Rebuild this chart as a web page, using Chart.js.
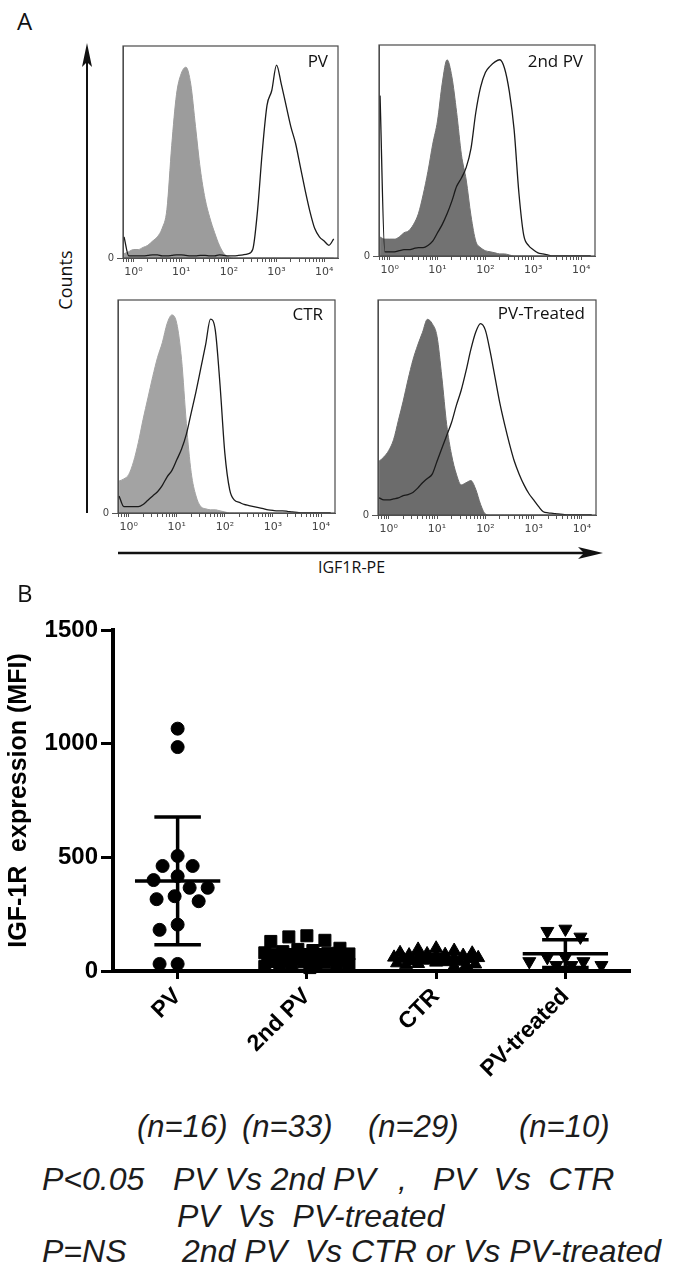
<!DOCTYPE html>
<html>
<head>
<meta charset="utf-8">
<script src="https://cdn.jsdelivr.net/npm/chart.js@4.4.1/dist/chart.umd.min.js"></script>
<style>
  html, body { margin: 0; padding: 0; background: #fff; }
  #page { position: relative; width: 675px; height: 1272px; overflow: hidden; font-family: "Open Sans", sans-serif; color: #111; }
  canvas { position: absolute; }
  .txt { position: absolute; white-space: pre; line-height: 1; }
  .pl { font-size: 17px; }
  .it { font-family: "Liberation Sans", Arial, sans-serif; font-style: italic; font-size: 31px; color: #1c1c1c; }
  .pt { font-size: 32px; }
</style>
</head>
<body>
<div id="page">
  <svg width="675" height="600" style="position:absolute;left:0;top:0">
    <line x1="87" y1="62" x2="87" y2="513" stroke="#111" stroke-width="2"/>
    <polygon points="87,43 82,67 87,62 92,67" fill="#111"/>
    <line x1="118" y1="553" x2="585" y2="553" stroke="#111" stroke-width="2.5"/>
    <polygon points="603,553 578,547 584,553 578,559" fill="#111"/>
  </svg>

  <canvas id="histPV"></canvas>
  <canvas id="hist2PV"></canvas>
  <canvas id="histCTR"></canvas>
  <canvas id="histPVT"></canvas>
  <canvas id="scatterB"></canvas>

  <div class="txt" style="left:17px;top:9px;font-size:24px;">A</div>
  <div class="txt" style="left:17px;top:581px;font-size:24px;">B</div>
  <div class="txt" style="left:65px;top:280px;font-size:18px;transform:translate(-50%,-50%) rotate(-90deg);">Counts</div>
  <div class="txt" style="left:318px;top:559px;font-size:16px;">IGF1R-PE</div>

  <div class="txt pl" style="right:347px;top:52px;">PV</div>
  <div class="txt pl" style="right:92px;top:52px;">2nd PV</div>
  <div class="txt pl" style="right:352px;top:305px;">CTR</div>
  <div class="txt pl" style="right:90px;top:304px;">PV-Treated</div>

  <div class="txt it" style="left:137px;top:1111px;">(n=16)</div>
  <div class="txt it" style="left:242px;top:1111px;">(n=33)</div>
  <div class="txt it" style="left:368px;top:1111px;">(n=29)</div>
  <div class="txt it" style="left:519px;top:1111px;">(n=10)</div>

  <div class="txt it pt" style="left:42px;top:1163px;">P&lt;0.05</div>
  <div class="txt it pt" style="left:173px;top:1163px;">PV Vs 2nd PV</div>
  <div class="txt it pt" style="left:398px;top:1163px;">,</div>
  <div class="txt it pt" style="left:433px;top:1163px;">PV  Vs  CTR</div>
  <div class="txt it pt" style="left:177px;top:1200px;">PV  Vs  PV-treated</div>
  <div class="txt it pt" style="left:42px;top:1235px;">P=NS</div>
  <div class="txt it pt" style="left:182px;top:1235px;">2nd PV  Vs CTR or Vs PV-treated</div>
</div>

<script>
// ---- Panel A: histogram channels (log10 of IGF1R-PE) ----
const binLog = [-0.2, -0.1, 0, 0.1, 0.2, 0.3, 0.4, 0.5, 0.6, 0.7, 0.8, 0.9,
  1.0, 1.1, 1.2, 1.3, 1.4, 1.5, 1.6, 1.7, 1.8, 1.9, 2.0, 2.1, 2.2, 2.3, 2.4,
  2.5, 2.6, 2.7, 2.8, 2.9, 3.0, 3.1, 3.2, 3.3, 3.4, 3.5, 3.6, 3.7, 3.8, 3.9,
  4.0, 4.1, 4.2];
const decadeLabels = ['10\u2070', '10\u00b9', '10\u00b2', '10\u00b3', '10\u2074'];

// counts, % of panel height
const pvFill = [2, 3, 4, 4, 5, 6, 8, 10, 14, 23, 53, 77, 87, 90, 82, 62, 42, 28, 19, 12, 6, 2, 0.5,
  0, 0, 0, 0, 0, 0, 0, 0, 0, 0, 0, 0, 0, 0, 0, 0, 0, 0, 0, 0, 0, 0];
const pvOpen = [10, 1, 1, 1, 1, 1.2, 1.5, 1.5, 1, 1, 1.2, 1.5, 1.5, 1.2, 1, 1, 1.2, 1.2, 1, 1, 1.5, 1.2,
  1, 1, 1.2, 1.5, 2, 4, 22, 50, 72, 79, 91, 82, 72, 62, 54, 43, 32, 22, 14, 10, 8, 6, 9];

const pv2Fill = [9, 8, 8, 8, 9, 11, 12, 15, 20, 29, 40, 53, 64, 82, 93, 85, 68, 48, 36, 19, 7, 4, 2.5,
  2, 1.5, 1, 1, 0.5, 0, 0, 0, 0, 0, 0, 0, 0, 0, 0, 0, 0, 0, 0, 0, 0, 0];
const pv2Open = [76, 2, 2, 2, 2.5, 3, 3, 3.5, 4, 4, 5, 7, 11, 15, 20, 26, 33, 37, 42, 51, 68, 80, 87,
  90, 92, 93, 89, 78, 60, 30, 10, 5, 3, 1.5, 1, 0.5, 0, 0, 0, 0, 0, 0, 0, 0, 0];

const ctrFill = [15, 16, 18, 24, 33, 44, 54, 64, 73, 80, 89, 93, 89, 72, 42, 19, 8, 3, 2, 1.5, 1.5, 1, 0.5,
  0, 0, 0, 0, 0, 0, 0, 0, 0, 0, 0, 0, 0, 0, 0, 0, 0, 0, 0, 0, 0, 0];
const ctrOpen = [8, 3, 3, 3, 3, 4, 6, 8, 10, 13, 17, 20, 25, 30, 37, 47, 57, 68, 79, 91, 86, 60, 28, 11,
  6, 5, 4, 3.5, 3, 2.5, 2, 1.5, 1.2, 1, 1, 0.8, 0.5, 0.3, 0, 0, 0, 0, 0, 0, 0];

const pvtFill = [25, 27, 30, 35, 44, 53, 63, 72, 79, 85, 91, 89, 83, 64, 42, 28, 19, 14, 15, 16, 12, 5, 0.5,
  0, 0, 0, 0, 0, 0, 0, 0, 0, 0, 0, 0, 0, 0, 0, 0, 0, 0, 0, 0, 0, 0];
const pvtOpen = [8, 7, 7, 7.5, 8, 9, 9.5, 10.5, 12.5, 15, 17, 19, 25, 31, 37, 43, 51, 58, 67, 77, 85, 89,
  86, 76, 64, 52, 42, 33, 25, 19, 14, 10, 7, 4, 1.5, 1, 0.8, 0.5, 0.3, 0, 0, 0, 0, 0, 0];

// ---- Panel B: MFI per patient ----
const groups = ['PV', '2nd PV', 'CTR', 'PV-treated'];
const pvVals = [1066, 985, 506, 462, 462, 417, 400, 366, 366, 329, 316, 307, 204, 181, 31, 31];
const pv2Vals = [155, 150, 135, 130, 100, 95, 90, 85, 80, 78, 75, 72, 70, 68, 65, 62, 60, 58, 55, 52,
  50, 48, 45, 42, 40, 38, 35, 32, 30, 28, 25, 20, 15];
const ctrVals = [100, 95, 90, 80, 78, 75, 72, 70, 68, 65, 62, 60, 58, 56, 55, 54, 52, 50, 48, 45, 42,
  40, 38, 35, 32, 30, 28, 25, 20];
const pvtVals = [185, 175, 150, 60, 60, 42, 42, 25, 25, 25];
const meanVals = [396, 64, 55, 76];
const sdVals = [281, 29, 20, 61];
const yTicks = [0, 500, 1000, 1500];

// frame round each histogram
const boxFrame = {
  id: 'boxFrame',
  afterDraw(chart) {
    const { ctx, chartArea: a } = chart;
    ctx.save();
    ctx.strokeStyle = '#4a4a4a';
    ctx.lineWidth = 1.2;
    ctx.strokeRect(a.left, a.top, a.right - a.left, a.bottom - a.top);
    ctx.restore();
  }
};

function makeHist(id, box, openVals, fillVals, fillColor) {
  const cv = document.getElementById(id);
  cv.width = box.r - box.l + 33;
  cv.height = box.b - box.t + 36;
  cv.style.left = (box.l - 25) + 'px';
  cv.style.top = (box.t - 6) + 'px';
  const xs = binLog.map(v => Math.pow(10, v));
  new Chart(cv, {
    type: 'line',
    data: {
      datasets: [
        { data: xs.map((x, i) => ({ x, y: openVals[i] })), borderColor: '#1a1a1a', borderWidth: 1.3,
          fill: false, pointRadius: 0, cubicInterpolationMode: 'monotone' },
        { data: xs.map((x, i) => ({ x, y: fillVals[i] })), borderColor: fillColor, backgroundColor: fillColor,
          borderWidth: 1, fill: 'origin', pointRadius: 0, cubicInterpolationMode: 'monotone' }
      ]
    },
    options: {
      responsive: false,
      animation: false,
      devicePixelRatio: 1,
      layout: { autoPadding: false, padding: { top: 6, right: 8, left: 0, bottom: 0 } },
      plugins: { legend: { display: false }, tooltip: { enabled: false } },
      scales: {
        x: {
          type: 'logarithmic',
          min: Math.pow(10, -0.2),
          max: Math.pow(10, 4.29),
          afterFit: s => { s.height = 30; },
          afterBuildTicks: s => {
            const t = [];
            for (let e = -1; e <= 4; e++) {
              for (let m = 1; m < 10; m++) {
                const v = m * Math.pow(10, e);
                if (v >= s.min && v <= s.max) t.push({ value: v });
              }
            }
            s.ticks = t;
          },
          ticks: {
            autoSkip: false, maxRotation: 0, padding: 4, color: '#444',
            font: { family: 'DejaVu Sans', size: 11 },
            callback: v => {
              const e = Math.log10(v);
              const r = Math.round(e);
              return Math.abs(e - r) < 1e-6 && r >= 0 ? decadeLabels[r] : '';
            }
          },
          grid: { drawOnChartArea: false, tickLength: 4, color: '#555' },
          border: { color: '#555', width: 1 }
        },
        y: {
          min: 0,
          max: 100,
          afterFit: s => { s.width = 25; },
          afterBuildTicks: s => { s.ticks = [{ value: 0 }]; },
          ticks: { padding: 3, color: '#444', font: { family: 'DejaVu Sans', size: 10 } },
          grid: { drawOnChartArea: false, tickLength: 6, color: '#555' },
          border: { color: '#555', width: 1 }
        }
      }
    },
    plugins: [boxFrame]
  });
}

makeHist('histPV', { l: 123, r: 338, t: 43, b: 258 }, pvOpen, pvFill, '#9c9c9c');
makeHist('hist2PV', { l: 379, r: 595, t: 42, b: 256 }, pv2Open, pv2Fill, '#727272');
makeHist('histCTR', { l: 118, r: 335, t: 297, b: 513 }, ctrOpen, ctrFill, '#a3a3a3');
makeHist('histPVT', { l: 378, r: 596, t: 297, b: 515 }, pvtOpen, pvtFill, '#6c6c6c');

// spread points of a group sideways (kept inside the group slot)
const Y_PX = 341 / 1500;  // px per MFI unit
const X_PX = 129;         // px per group slot
function swarm(values, center) {
  const placed = [];
  const minDist = 16, step = 3, maxOff = 42;
  values.slice().sort((a, b) => b - a).forEach(v => {
    const py = v * Y_PX;
    let best = 0, bestD = -1;
    for (let k = 0; ; k++) {
      const cand = (k % 2 ? -1 : 1) * Math.ceil(k / 2) * step;
      if (Math.abs(cand) > maxOff) break;
      const d = placed.reduce((m, p) => Math.min(m, Math.hypot(p.px - cand, p.py - py)), Infinity);
      if (d >= minDist) { best = cand; break; }
      if (d > bestD) { bestD = d; best = cand; }
    }
    placed.push({ px: best, py, v });
  });
  return placed.map(p => ({ x: center + p.px / X_PX, y: p.v }));
}

const errorBars = {
  id: 'errorBars',
  afterDatasetsDraw(chart) {
    const { ctx, scales: { x, y } } = chart;
    ctx.save();
    ctx.strokeStyle = '#000';
    ctx.lineWidth = 3.5;
    meanVals.forEach((m, i) => {
      const c = i + 1;
      const ym = y.getPixelForValue(m);
      const yt = y.getPixelForValue(m + sdVals[i]);
      const yb = y.getPixelForValue(Math.max(0, m - sdVals[i]));
      ctx.beginPath();
      ctx.moveTo(x.getPixelForValue(c - 0.33), ym);
      ctx.lineTo(x.getPixelForValue(c + 0.33), ym);
      ctx.moveTo(x.getPixelForValue(c), yt);
      ctx.lineTo(x.getPixelForValue(c), yb);
      ctx.moveTo(x.getPixelForValue(c - 0.18), yt);
      ctx.lineTo(x.getPixelForValue(c + 0.18), yt);
      ctx.moveTo(x.getPixelForValue(c - 0.18), yb);
      ctx.lineTo(x.getPixelForValue(c + 0.18), yb);
      ctx.stroke();
    });
    ctx.restore();
  }
};

const sc = document.getElementById('scatterB');
sc.width = 675;
sc.height = 500;
sc.style.left = '0px';
sc.style.top = '600px';
const dotBase = { backgroundColor: '#000', borderColor: '#000', borderWidth: 1, clip: false };
new Chart(sc, {
  type: 'scatter',
  data: {
    datasets: [
      { ...dotBase, data: swarm(pvVals, 1), pointStyle: 'circle', pointRadius: 6.5 },
      { ...dotBase, data: swarm(pv2Vals, 2), pointStyle: 'rect', pointRadius: 8.5 },
      { ...dotBase, data: swarm(ctrVals, 3), pointStyle: 'triangle', pointRadius: 7.5 },
      { ...dotBase, data: swarm(pvtVals, 4), pointStyle: 'triangle', pointRotation: 180, pointRadius: 7.5 }
    ]
  },
  options: {
    responsive: false,
    animation: false,
    devicePixelRatio: 1,
    layout: { autoPadding: false, padding: { top: 30, right: 45, left: 0, bottom: 0 } },
    plugins: { legend: { display: false }, tooltip: { enabled: false } },
    scales: {
      x: {
        type: 'linear',
        min: 0.5,
        max: 4.5,
        afterFit: s => { s.height = 129; },
        afterBuildTicks: s => { s.ticks = groups.map((g, i) => ({ value: i + 1 })); },
        ticks: {
          autoSkip: false, minRotation: 45, maxRotation: 45, padding: 4, color: '#000',
          font: { family: 'Liberation Sans', weight: 'bold', size: 23 },
          callback: v => groups[v - 1]
        },
        grid: { drawOnChartArea: false, tickLength: 8, tickWidth: 3, color: '#000' },
        border: { width: 4, color: '#000' }
      },
      y: {
        min: 0,
        max: 1500,
        afterFit: s => { s.width = 113; },
        afterBuildTicks: s => { s.ticks = yTicks.map(v => ({ value: v })); },
        ticks: {
          padding: 3, color: '#000', font: { family: 'Liberation Sans', weight: 'bold', size: 24 },
          callback: v => String(v)
        },
        grid: { drawOnChartArea: false, tickLength: 12, tickWidth: 3, color: '#000' },
        border: { width: 4, color: '#000' },
        title: {
          display: true, text: 'IGF-1R  expression (MFI)', color: '#000',
          font: { family: 'Liberation Sans', weight: 'bold', size: 25 },
          padding: { top: 4, bottom: 0 }
        }
      }
    }
  },
  plugins: [errorBars]
});
</script>
</body>
</html>
